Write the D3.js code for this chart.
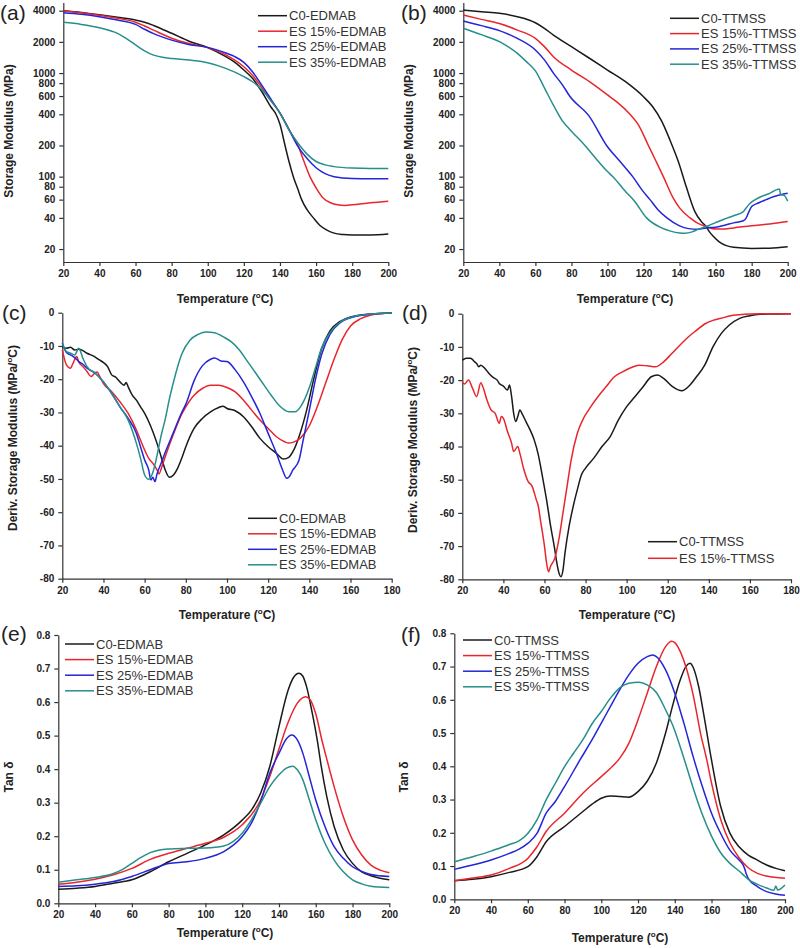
<!DOCTYPE html>
<meta charset="utf-8">
<style>
body { margin: 0; background: #fff; }
svg text { font-family: Arial, "Liberation Sans", sans-serif; }
.axis path, .axis line { stroke: #333; stroke-width: 1.2px; }
.axis text { font-size: 10px; font-weight: bold; fill: #222; font-family: Arial, "Liberation Sans", sans-serif; }
.series { fill: none; stroke-width: 1.5px; }
.title { font-size: 12px; font-weight: bold; fill: #222; }
.legend text { font-size: 13px; fill: #333; }
.tag { font-size: 21px; fill: #222; }
</style>
<body>
<div id="chart"></div>
<script src="https://d3js.org/d3.v7.min.js"></script>
<script>
// ---- data: [temperature (C), value] ----
var edmabNames = ["C0-EDMAB", "ES 15%-EDMAB", "ES 25%-EDMAB", "ES 35%-EDMAB"];
var ttmssNames = ["C0-TTMSS", "ES 15%-TTMSS", "ES 25%-TTMSS", "ES 35%-TTMSS"];
var colors = ["#1a1a1a", "#e8262c", "#2424d8", "#268f8b"];

var temp200 = [20, 40, 60, 80, 100, 120, 140, 160, 180, 200];
var temp180 = [20, 40, 60, 80, 100, 120, 140, 160, 180];
var modTicks = [20, 40, 60, 80, 100, 200, 400, 600, 800, 1000, 2000, 4000];
var derivTicks = [0, -10, -20, -30, -40, -50, -60, -70, -80];
var tanTicks = [0, 0.1, 0.2, 0.3, 0.4, 0.5, 0.6, 0.7, 0.8];

// (a) storage modulus, EDMAB
var aC0 = [[20,4000],[30,3850],[40,3650],[50,3450],[60,3250],[65,3100],[70,2880],[80,2420],[90,2020],[100,1760],[110,1440],[115,1270],[120,1070],[125,880],[130,660],[135,470],[137.8,400],[140,320],[142.8,200],[145,140],[147.4,100],[150,75],[152,60],[155,48],[158.5,40],[162,34],[166,30.5],[170,28.5],[175,27.6],[180,27.3],[190,27.4],[200,28]];
var a15 = [[20,3980],[30,3820],[40,3620],[50,3380],[60,3100],[65,2850],[70,2600],[80,2170],[90,1920],[100,1760],[110,1500],[120,1150],[125,940],[130,720],[135,540],[140.5,400],[145,285],[150,200],[153,145],[156.6,100],[160,78],[164,62],[168,56],[172,53.5],[176,52.8],[180,53.5],[190,56],[200,58]];
var a25 = [[20,3830],[30,3700],[40,3500],[50,3250],[60,2950],[65,2650],[70,2400],[80,2080],[90,1880],[100,1770],[110,1560],[115,1440],[120,1270],[125,1020],[130,760],[135,560],[140,410],[145,285],[150,195],[155,150],[160,122],[165,107],[170,100],[180,96],[190,95.5],[200,95.5]];
var a35 = [[20,3090],[30,2950],[40,2740],[50,2420],[55,2150],[60,1870],[65,1640],[70,1490],[75,1420],[80,1385],[90,1335],[100,1260],[110,1110],[120,925],[125,820],[130,690],[135,540],[140,410],[145,283],[150,210],[155,165],[160,140],[165,130],[170,125],[180,121],[190,120],[200,120]];

// (b) storage modulus, TTMSS
var bC0 = [[20,4060],[30,3900],[40,3770],[50,3500],[60,3060],[65,2700],[70,2330],[80,1800],[90,1390],[100,1070],[110,825],[120,590],[125,475],[130,345],[134.7,225],[139.3,140],[143.9,78],[148.5,46],[152,37],[154.7,33],[156.5,29.5],[158.7,26.6],[162,23.5],[166,21.6],[170,20.8],[180,20.3],[190,20.4],[200,21]];
var b15 = [[20,3630],[30,3300],[40,3010],[50,2600],[60,2160],[65,1800],[70,1440],[80,1070],[90,825],[100,615],[105,530],[112.5,400],[117,320],[122.7,200],[127,140],[131,100],[136.5,62],[140,50],[145.8,40],[150,35.6],[154.7,33],[160,31.2],[165,31.3],[170,32],[180,33.6],[190,35],[200,37]];
var b25 = [[20,3180],[30,2870],[40,2570],[50,2160],[60,1670],[65,1340],[70,1000],[75,770],[79,600],[90,380],[99.5,200],[107,140],[114,100],[119,75],[123.6,60],[128,48],[133,40],[140,33.5],[145,31.5],[150,31],[154.7,32],[160,32.5],[165,34],[170,35.8],[175.4,37.5],[177,40],[178.5,46],[180,51.5],[184,56],[188,60],[192,64],[196,67],[200,69]];
var b35 = [[20,2710],[30,2350],[40,2010],[50,1550],[55,1290],[60,1050],[65,720],[70,490],[75,345],[80,275],[87.5,200],[95,140],[100,112],[103,100],[110,72],[115,58],[121.7,40],[130,32],[135,29.8],[140,28.6],[143,28.4],[147,29.3],[150,30.8],[154.7,33],[160,36],[165,39],[170,42],[175.4,46],[177,50],[179,55],[182,60],[186,65],[190,69],[194,75],[195.5,76],[196,67],[198,66],[200,58]];

// (c) derivative of storage modulus, EDMAB
var cC0 = [[20,-10.2],[22,-10.7],[24,-10.4],[26,-11.2],[28,-11],[30,-11.4],[32,-12.2],[35,-13],[38,-14.2],[40,-15],[42,-16.2],[44,-18.7],[46,-19.4],[48,-20.8],[50,-21.8],[51,-21],[52,-22.3],[54,-24.8],[56,-26.3],[58,-28.3],[60,-30.3],[62,-32.8],[64,-35.8],[66,-39.3],[68,-43.3],[70,-47.3],[72,-49.5],[74,-48.8],[76,-46.8],[78,-43.8],[80,-40.3],[84,-34.8],[88,-31.8],[92,-29.8],[96,-28.5],[98,-28.1],[100,-28.8],[104,-29.5],[108,-31.3],[112,-34.3],[116,-37.8],[120,-40.3],[124,-42.3],[127.4,-44],[130,-43.5],[132,-41.8],[135.5,-36.3],[138.7,-29.3],[142,-20.3],[146,-10.8],[150,-5.5],[155,-2.6],[160,-1.3],[170,-0.4],[180,-0.1]];
var c15 = [[20,-11.2],[22,-15.7],[24,-16.7],[25,-15.5],[27,-13.2],[28,-14.8],[30,-16.2],[32,-17.7],[34,-19.2],[36,-18],[37,-17.8],[38,-19],[40,-21.3],[44,-23.8],[48,-26.8],[52,-30.3],[56,-35.3],[58,-38.3],[60,-41.3],[62,-43.8],[64,-45.3],[66,-47.3],[67,-48.5],[68,-47],[70,-43.3],[74,-36.5],[78,-30.5],[80,-28.3],[84,-24.8],[88,-22.8],[92,-21.8],[96,-21.8],[100,-22.5],[104,-23.8],[108,-26.3],[112,-29.3],[116,-32.3],[120,-34.8],[124,-37.3],[128,-38.8],[130,-39.2],[132,-39],[136,-37.5],[140,-34],[144,-28],[148,-21],[152,-14],[156,-8],[160,-4],[165,-1.8],[170,-0.7],[180,-0.1]];
var c25 = [[20,-9.2],[22,-12],[24,-12.7],[26,-13.5],[28,-14.7],[30,-15.5],[32,-16.7],[36,-18.2],[40,-20.8],[44,-24.3],[48,-28.3],[52,-31.8],[56,-36.3],[58,-40.3],[60,-44.3],[62,-47.3],[63,-50.3],[64,-49.5],[65,-50.8],[66,-48.5],[68,-45.3],[70,-42],[74,-36],[78,-30],[80,-27.5],[84,-20.5],[88,-16],[92,-14],[94,-13.6],[97,-14.5],[100,-14.7],[104,-17.2],[108,-20.8],[112,-25.3],[116,-30.3],[120,-36.3],[124,-42.3],[127,-47.3],[129,-49.8],[130,-49.5],[132,-47.3],[135,-44.3],[137,-38.3],[140,-29.3],[143,-20],[146,-12.5],[150,-6.5],[155,-3],[160,-1.5],[170,-0.4],[180,-0.1]];
var c35 = [[20,-9.2],[22,-11.7],[24,-12.2],[26,-12.7],[28,-10.7],[30,-13.7],[32,-16.2],[36,-18.2],[40,-20.8],[44,-24.3],[48,-28.3],[52,-32.3],[56,-39.3],[58,-43.8],[60,-48.8],[62,-50.1],[64,-48],[66,-43],[68,-37],[70,-32],[72,-26],[75,-18.5],[78,-12.5],[82,-8.3],[86,-6.5],[90,-5.8],[94,-6],[98,-7.2],[102,-8.7],[106,-11.2],[110,-14.7],[114,-18.2],[118,-21.8],[122,-25.3],[126,-28.3],[130,-29.8],[133,-29.8],[136,-28],[140,-22.5],[143,-16.5],[146,-10.5],[150,-6],[155,-2.8],[160,-1.4],[170,-0.4],[180,-0.1]];

// (d) derivative of storage modulus, TTMSS
var dC0 = [[20,-14],[22,-13.4],[24,-13.4],[26,-14.5],[27,-15],[28,-16],[29,-15.5],[31,-16.5],[33,-18],[35,-19.2],[37,-20],[38,-21],[40,-21.8],[42,-23],[43,-21.5],[44,-25],[45,-30],[46,-32.5],[47,-31],[48,-29],[49,-30],[51,-32.5],[53,-35],[55,-38],[57,-42.5],[59,-49],[61,-56],[63,-64],[65,-71],[66,-75],[67,-78],[68,-79.2],[69,-77.2],[70,-72],[72,-64],[74,-58],[76,-53],[78,-48.5],[80,-46.5],[84,-43.5],[88,-40],[92,-37],[96,-32],[100,-28],[104,-25],[108,-22],[112,-19],[115,-18.5],[118,-19.5],[122,-21.8],[127,-23.2],[130,-22],[134,-19],[138,-15.5],[142,-10],[146,-6],[150,-3.4],[155,-1.4],[160,-0.6],[165,-0.2],[170,-0.1],[180,0]];
var d15 = [[20,-20.5],[21,-21.2],[23,-20],[25,-22.5],[27,-25],[29,-20.8],[30,-22],[32,-26],[34,-29],[36,-30],[38,-33],[39,-31],[40,-31.5],[42,-35.5],[44,-39],[45,-41.5],[47,-40],[48,-42],[50,-47],[52,-50.5],[54,-52],[56,-56],[57,-58],[58,-62],[60,-70],[61,-75],[62,-77.7],[63,-76],[65,-73.7],[67,-68],[69,-60],[71,-52],[73,-44],[76,-36],[79,-31.5],[82,-28.5],[86,-25],[90,-22],[94,-19],[98,-17.5],[102,-16.3],[106,-15.5],[110,-15.7],[114,-16],[118,-14.5],[122,-12],[126,-9.4],[130,-7],[134,-5],[138,-3.1],[142,-2],[146,-1.4],[150,-0.7],[155,-0.3],[160,-0.1],[170,0],[180,0]];

// (e) tan delta, EDMAB
var eC0 = [[20,0.042],[30,0.045],[40,0.05],[50,0.06],[60,0.07],[70,0.094],[80,0.124],[90,0.149],[100,0.174],[110,0.204],[120,0.248],[125,0.278],[130,0.328],[135,0.408],[140,0.527],[145,0.636],[148,0.674],[150.9,0.686],[153,0.677],[155,0.646],[158,0.57],[160.8,0.487],[163,0.408],[166,0.318],[170,0.229],[175,0.159],[180,0.119],[185,0.094],[190,0.082],[195,0.075],[200,0.07]];
var e15 = [[20,0.057],[30,0.063],[40,0.072],[50,0.085],[60,0.104],[70,0.131],[80,0.149],[90,0.164],[100,0.179],[110,0.197],[120,0.234],[130,0.308],[135,0.378],[140,0.46],[145,0.54],[150,0.597],[154.5,0.616],[157,0.607],[160,0.565],[163.2,0.49],[166,0.43],[170,0.348],[175,0.258],[180,0.189],[185,0.144],[190,0.114],[195,0.099],[200,0.091]];
var e25 = [[20,0.05],[30,0.052],[40,0.057],[50,0.065],[60,0.08],[70,0.1],[80,0.119],[90,0.124],[100,0.134],[110,0.154],[120,0.199],[125,0.239],[130,0.303],[135,0.388],[140,0.447],[144,0.49],[147,0.502],[150,0.487],[153,0.447],[156,0.388],[160,0.308],[165,0.229],[170,0.169],[175,0.134],[180,0.109],[185,0.095],[190,0.086],[200,0.08]];
var e35 = [[20,0.063],[30,0.07],[40,0.077],[50,0.089],[55,0.101],[60,0.119],[65,0.137],[70,0.151],[75,0.159],[80,0.162],[90,0.164],[100,0.165],[110,0.171],[115,0.184],[120,0.209],[125,0.249],[130,0.298],[135,0.348],[140,0.383],[144,0.403],[147.5,0.409],[150,0.398],[153,0.368],[156,0.318],[160,0.249],[165,0.179],[170,0.129],[175,0.094],[180,0.07],[185,0.058],[190,0.051],[200,0.047]];

// (f) tan delta, TTMSS
var fC0 = [[20,0.056],[30,0.06],[40,0.068],[50,0.081],[60,0.098],[65,0.128],[70,0.173],[80,0.219],[90,0.264],[95,0.286],[100,0.304],[105,0.311],[110,0.309],[115,0.307],[120,0.324],[125,0.355],[130,0.41],[135,0.5],[139.2,0.59],[142.8,0.657],[146,0.7],[148.3,0.71],[150,0.698],[153,0.64],[156,0.549],[160,0.419],[165,0.279],[170,0.199],[175,0.158],[180,0.133],[185,0.118],[190,0.103],[195,0.093],[200,0.086]];
var f15 = [[20,0.056],[30,0.064],[40,0.073],[50,0.093],[60,0.123],[65,0.158],[70,0.204],[80,0.259],[90,0.319],[100,0.369],[105,0.394],[110,0.424],[115,0.469],[120,0.54],[125,0.62],[130,0.7],[135,0.76],[138.3,0.776],[140,0.772],[143,0.745],[146,0.7],[150,0.615],[154,0.5],[157.4,0.42],[160,0.35],[165,0.24],[170,0.17],[175,0.125],[180,0.095],[185,0.078],[190,0.07],[200,0.063]];
var f25 = [[20,0.09],[30,0.103],[40,0.118],[50,0.138],[55,0.15],[60,0.168],[65,0.198],[70,0.259],[75,0.294],[80,0.339],[88.4,0.419],[95,0.48],[100,0.53],[105,0.58],[110,0.63],[115,0.675],[120,0.71],[125,0.73],[128,0.735],[130,0.73],[135,0.69],[140,0.62],[145,0.529],[150,0.429],[155,0.339],[160,0.259],[165,0.198],[170,0.148],[175,0.118],[177,0.105],[178,0.093],[179,0.075],[180,0.063],[185,0.038],[190,0.023],[195,0.016],[200,0.012]];
var f35 = [[20,0.113],[30,0.128],[40,0.145],[50,0.165],[55,0.175],[60,0.198],[65,0.239],[70,0.299],[75,0.349],[80,0.399],[85,0.44],[90,0.48],[95,0.528],[100,0.565],[105,0.605],[110,0.636],[115,0.65],[120.7,0.653],[125,0.645],[130,0.622],[135,0.57],[139.2,0.519],[144.7,0.429],[150,0.335],[155,0.255],[160,0.19],[165,0.14],[170,0.108],[175,0.085],[178,0.07],[180,0.06],[185,0.045],[190,0.034],[194,0.027],[195,0.04],[196,0.028],[200,0.043]];

// ---- layout of the six panels ----
var panels = [
  {tag:"(a)", tx:0, ty:20, xr:[63.3,388.3], yr:[262,2.5], xd:[20,200], yd:[15,4800], log:true,
   xt:temp200, yt:modTicks, fmt:function(d){ return d; }, lines:[aC0,a15,a25,a35], names:edmabNames,
   leg:[258,15.7,15.5], ylab:"mod", ylx:9, yly:131, xlx:225, xly:303},
  {tag:"(b)", tx:401, ty:20, xr:[463.3,787.7], yr:[262,2.5], xd:[20,200], yd:[15,4800], log:true,
   xt:temp200, yt:modTicks, fmt:function(d){ return d; }, lines:[bC0,b15,b25,b35], names:ttmssNames,
   leg:[670,18.3,15.3], ylab:"mod", ylx:409, yly:131, xlx:625, xly:303},
  {tag:"(c)", tx:2, ty:320, xr:[62.3,391.7], yr:[578.7,312.7], xd:[20,180], yd:[-80,0],
   xt:temp180, yt:derivTicks, fmt:function(d){ return String(d); }, lines:[cC0,c15,c25,c35], names:edmabNames,
   leg:[248,518.3,15.5], ylab:"deriv", ylx:13, yly:438, xlx:227, xly:619},
  {tag:"(d)", tx:402, ty:320, xr:[462.3,791], yr:[579.3,313.7], xd:[20,180], yd:[-80,0],
   xt:temp180, yt:derivTicks, fmt:function(d){ return String(d); }, lines:[dC0,d15], names:ttmssNames.slice(0,2),
   leg:[648,541.7,16.6], ylab:"deriv", ylx:413, yly:440, xlx:627, xly:619},
  {tag:"(e)", tx:1, ty:641, xr:[58.3,389.3], yr:[903.3,635], xd:[20,200], yd:[0,0.8],
   xt:temp200, yt:tanTicks, fmt:d3.format(".1f"), lines:[eC0,e15,e25,e35], names:edmabNames,
   leg:[65,644,15.6], ylab:"tan", ylx:9, yly:777, xlx:225, xly:937},
  {tag:"(f)", tx:401, ty:642, xr:[454.3,785], yr:[899.3,633.3], xd:[20,200], yd:[0,0.8],
   xt:temp200, yt:tanTicks, fmt:d3.format(".1f"), lines:[fC0,f15,f25,f35], names:ttmssNames,
   leg:[463,640,15.6], ylab:"tan", ylx:404, yly:777, xlx:620, xly:942}
];

var svg = d3.select("#chart").append("svg")
    .attr("width", 800)
    .attr("height", 948);

function supText(t, before, after) {
  t.append("tspan").text(before);
  t.append("tspan").attr("font-size", "8px").attr("dy", -5).text("o");
  t.append("tspan").attr("dy", 5).text(after);
}

panels.forEach(function(p) {
  var g = svg.append("g");
  var x = d3.scaleLinear().domain(p.xd).range(p.xr);
  var y = (p.log ? d3.scaleLog() : d3.scaleLinear()).domain(p.yd).range(p.yr);

  g.append("g")
      .attr("class", "axis")
      .attr("transform", "translate(0," + p.yr[0] + ")")
      .call(d3.axisBottom(x).tickValues(p.xt).tickSize(4).tickSizeOuter(0).tickPadding(4)
        .tickFormat(function(d){ return d; }));

  g.append("g")
      .attr("class", "axis")
      .attr("transform", "translate(" + p.xr[0] + ",0)")
      .call(d3.axisLeft(y).tickValues(p.yt).tickSize(4).tickSizeOuter(0).tickPadding(4)
        .tickFormat(p.fmt));

  var line = d3.line()
      .x(function(d) { return x(d[0]); })
      .y(function(d) { return y(d[1]); })
      .curve(d3.curveMonotoneX);

  p.lines.forEach(function(s, i) {
    g.append("path")
        .datum(s)
        .attr("class", "series")
        .attr("stroke", colors[i])
        .attr("d", line);
  });

  // legend
  var leg = g.append("g").attr("class", "legend");
  p.names.forEach(function(n, i) {
    var ly = p.leg[1] + i * p.leg[2];
    leg.append("line")
        .attr("x1", p.leg[0]).attr("x2", p.leg[0] + 29)
        .attr("y1", ly).attr("y2", ly)
        .attr("stroke", colors[i]).attr("stroke-width", 1.5);
    leg.append("text")
        .attr("x", p.leg[0] + 31).attr("y", ly).attr("dy", "0.35em")
        .text(n);
  });

  // axis titles
  var xt = g.append("text").attr("class", "title")
      .attr("x", p.xlx).attr("y", p.xly).attr("text-anchor", "middle");
  supText(xt, "Temperature (", "C)");

  var yt = g.append("text").attr("class", "title")
      .attr("transform", "translate(" + p.ylx + "," + p.yly + ") rotate(-90)")
      .attr("text-anchor", "middle").attr("dy", "0.35em");
  if (p.ylab === "mod") yt.text("Storage Modulus (MPa)");
  else if (p.ylab === "deriv") supText(yt, "Deriv. Storage Modulus (MPa/", "C)");
  else yt.text("Tan \u03b4");

  g.append("text").attr("class", "tag")
      .attr("x", p.tx).attr("y", p.ty)
      .text(p.tag);
});
</script>
</body>
